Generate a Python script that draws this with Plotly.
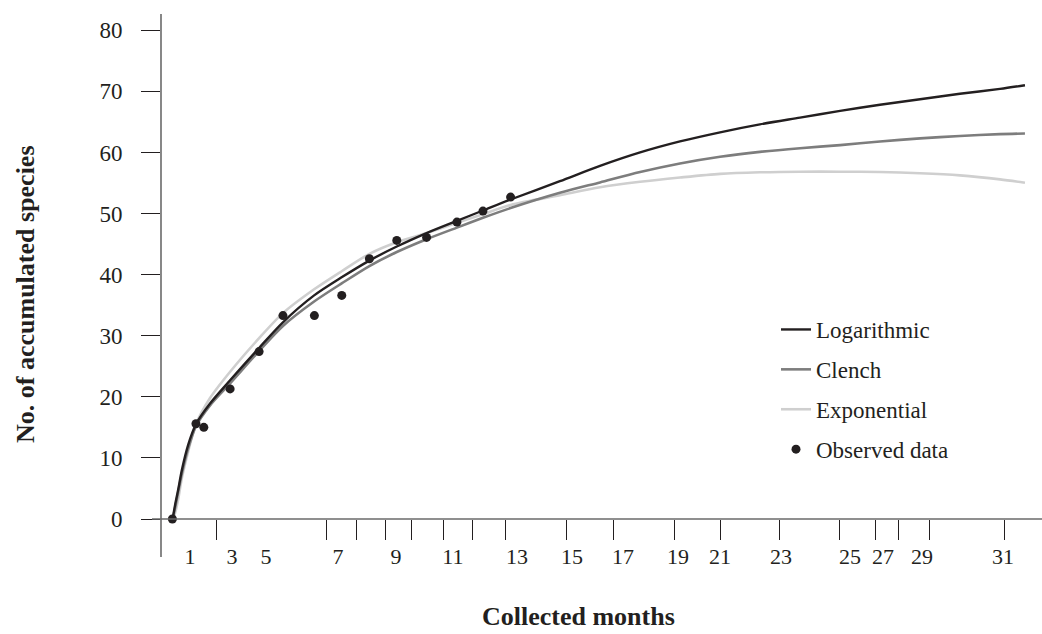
import plotly.graph_objects as go

# ---------------- data ----------------
# observed accumulation (months, species)
obs_months = [0.42, 1.29, 1.58, 2.55, 3.62, 4.50, 5.66, 6.67, 7.69, 8.70, 9.80, 10.92, 11.88, 12.90]
obs_species = [0.0, 15.6, 15.0, 21.3, 27.4, 33.3, 33.3, 36.6, 42.6, 45.6, 46.1, 48.6, 50.4, 52.7]

# fitted curves sampled along the month axis
curve_months = [0.43, 0.52, 0.63, 0.77, 1.00, 1.29, 1.81, 2.55, 3.62, 4.50, 5.65, 6.68,
                7.69, 8.70, 9.80, 10.92, 11.88, 12.90, 14.72, 16.20, 17.68, 19.15, 20.63,
                22.10, 23.58, 25.06, 26.53, 28.01, 29.48, 30.96, 31.88]
logarithmic = [0.0, 2.3, 4.7, 8.0, 12.1, 15.5, 18.9, 22.7, 28.0, 32.2, 36.6, 39.6,
               42.3, 44.6, 46.8, 48.8, 50.5, 52.3, 55.3, 57.8, 60.0, 61.8, 63.3,
               64.6, 65.7, 66.8, 67.8, 68.7, 69.6, 70.4, 71.0]
clench = [0.0, 1.8, 4.3, 7.4, 11.5, 15.2, 18.6, 22.2, 27.5, 31.6, 35.6, 38.6,
          41.4, 43.7, 45.8, 47.7, 49.3, 50.9, 53.4, 55.1, 56.8, 58.2, 59.3,
          60.1, 60.7, 61.2, 61.8, 62.3, 62.7, 63.0, 63.1]
exponential = [0.0, 1.0, 3.1, 6.7, 11.0, 15.5, 19.8, 24.1, 29.6, 33.7, 37.6, 40.6,
               43.4, 45.3, 46.8, 48.5, 49.9, 51.4, 53.0, 54.3, 55.2, 55.9, 56.5,
               56.75, 56.85, 56.85, 56.8, 56.6, 56.25, 55.6, 55.05]

# x axis: label positions / texts and separate tick-mark positions (as drawn)
xlabel_pos = [1.07, 2.62, 3.87, 6.53, 8.67, 10.77, 13.14, 15.17, 17.05, 19.08,
              20.63, 22.88, 25.42, 26.64, 28.08, 31.07]
xlabel_text = ["1", "3", "5", "7", "9", "11", "13", "15", "17", "19",
               "21", "23", "25", "27", "29", "31"]
xtick_marks = [2.03, 6.09, 7.20, 8.30, 9.26, 10.41, 11.48, 12.73, 14.98, 16.68,
               18.93, 20.66, 22.84, 25.02, 26.35, 27.23, 28.34, 31.14]
ytick_vals = [0, 10, 20, 30, 40, 50, 60, 70, 80]

# ---------------- styling ----------------
FONT = "Liberation Serif"
C_LOG = "#231f20"
C_CLE = "#7d7d7d"
C_EXP = "#cfcfcf"
C_AX = "#6a6a6a"

W, H = 1042, 634
ML, MR, MT, MB = 161, 0, 14, 115
PW, PH = W - ML - MR, H - MT - MB
X_RANGE = [0, PW / 27.1]
Y_RANGE = [0, PH / 6.109]

fig = go.Figure()
fig.add_trace(go.Scatter(x=curve_months, y=exponential, mode="lines", name="Exponential",
                         line=dict(color=C_EXP, width=2.6, shape="spline", smoothing=0.8),
                         legendrank=3, legendgroup="c"))
fig.add_trace(go.Scatter(x=curve_months, y=clench, mode="lines", name="Clench",
                         line=dict(color=C_CLE, width=2.6, shape="spline", smoothing=0.8),
                         legendrank=2, legendgroup="b"))
fig.add_trace(go.Scatter(x=curve_months, y=logarithmic, mode="lines", name="Logarithmic",
                         line=dict(color=C_LOG, width=2.4, shape="spline", smoothing=0.8),
                         legendrank=1, legendgroup="a"))
fig.add_trace(go.Scatter(x=obs_months, y=obs_species, mode="markers", name="Observed data",
                         marker=dict(color=C_LOG, size=9), cliponaxis=False,
                         legendrank=4, legendgroup="d"))

fig.update_layout(
    width=W, height=H,
    margin=dict(l=ML, r=MR, t=MT, b=MB, pad=0),
    paper_bgcolor="white", plot_bgcolor="white",
    font=dict(family=FONT, color="#231f20"),
    showlegend=True,
    legend=dict(x=(776 - ML) / PW, xanchor="left", y=(519 - 308) / PH, yanchor="top",
                font=dict(family=FONT, size=23, color="#231f20"),
                tracegroupgap=7, bgcolor="rgba(0,0,0,0)", traceorder="grouped"),
    xaxis=dict(range=X_RANGE, showgrid=False, zeroline=False, showline=False,
               tickmode="array", tickvals=xlabel_pos, ticktext=xlabel_text,
               ticks="", ticklen=0, ticklabelstandoff=22,
               tickfont=dict(family=FONT, size=22, color="#231f20"),
               minor=dict(tickmode="array", tickvals=xtick_marks, ticks="outside",
                          ticklen=20, tickwidth=1.3, tickcolor="#231f20", showgrid=False)),
    yaxis=dict(range=Y_RANGE, showgrid=False, zeroline=False, showline=False,
               tickmode="array", tickvals=ytick_vals, ticks="outside", ticklen=19,
               tickwidth=1.3, tickcolor="#231f20", ticklabelstandoff=14,
               tickfont=dict(family=FONT, size=23, color="#231f20")),
    shapes=[
        dict(type="line", xref="paper", yref="paper", x0=(152 - ML) / PW, x1=1.0,
             y0=0, y1=0, line=dict(color=C_AX, width=1.6), layer="above"),
        dict(type="line", xref="paper", yref="paper", x0=0, x1=0,
             y0=(519 - 557) / PH, y1=1.0, line=dict(color=C_AX, width=1.6), layer="above"),
    ],
    annotations=[
        dict(text="<b>No. of accumulated species</b>", xref="paper", yref="paper",
             x=(25 - ML) / PW, y=(519 - 294) / PH, textangle=-90, showarrow=False,
             font=dict(family=FONT, size=26, color="#231f20"),
             xanchor="center", yanchor="middle"),
        dict(text="<b>Collected months</b>", xref="paper", yref="paper",
             x=(578 - ML) / PW, y=(519 - 616) / PH, showarrow=False,
             font=dict(family=FONT, size=26, color="#231f20"),
             xanchor="center", yanchor="middle"),
    ],
)

# remove the default page margin so the figure sits at the window's top-left corner
fig.write_html("out.html",
               config={"displayModeBar": False},
               post_script="document.body.style.margin='0px';document.body.style.overflow='hidden';")
